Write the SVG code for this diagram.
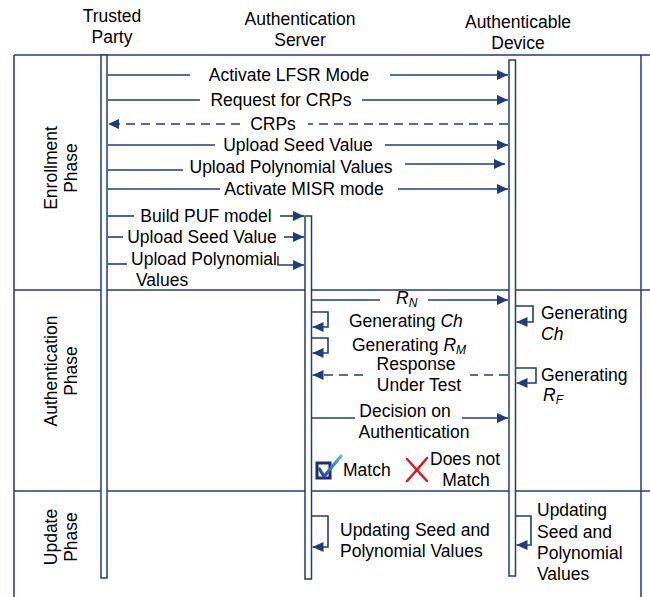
<svg xmlns="http://www.w3.org/2000/svg" width="650" height="597" viewBox="0 0 650 597">
  <defs>
    <style>
      .frame { stroke: #1F3C7E; stroke-width: 1.5; fill: none; }
      .bar { stroke: #1F3C7E; stroke-width: 1.5; fill: #FFFFFF; }
      .msg { stroke: #1F3C7E; stroke-width: 1.6; fill: none; }
      .dash { stroke-dasharray: 9 6; }
      .arr { marker-end: url(#ah); }
      text { font-family: "Liberation Sans", Arial, sans-serif; font-size: 17.5px; fill: #000000; }
      .c { text-anchor: middle; }
      .it { font-style: italic; }
      .sub { font-size: 12px; font-style: italic; }
    </style>
    <marker id="ah" markerWidth="11" markerHeight="10" refX="11" refY="5" orient="auto" markerUnits="userSpaceOnUse">
      <path d="M0,0 L11,5 L0,10 Z" fill="#1F3C7E"/>
    </marker>
    <linearGradient id="tick" x1="0" y1="1" x2="1" y2="0">
      <stop offset="0" stop-color="#1D3F94"/>
      <stop offset="1" stop-color="#5BB4EE"/>
    </linearGradient>
  </defs>

  <!-- column headers -->
  <g id="hdr-trusted-party">
    <text class="c" x="112" y="22">Trusted</text>
    <text class="c" x="112" y="43">Party</text>
  </g>
  <g id="hdr-auth-server">
    <text class="c" x="300" y="25">Authentication</text>
    <text class="c" x="300" y="46">Server</text>
  </g>
  <g id="hdr-auth-device">
    <text class="c" x="518" y="28">Authenticable</text>
    <text class="c" x="518" y="49">Device</text>
  </g>

  <!-- outer frame and phase dividers -->
  <g id="frame" class="frame">
    <line x1="14" y1="55" x2="650" y2="55"/>
    <line x1="14" y1="55" x2="14" y2="597"/>
    <line x1="641" y1="55" x2="641" y2="597"/>
    <line x1="14" y1="290" x2="650" y2="290"/>
    <line x1="14" y1="491" x2="650" y2="491"/>
  </g>

  <!-- phase labels -->
  <g id="phase-enrollment">
    <text class="c" transform="translate(57,168) rotate(-90)">Enrollment</text>
    <text class="c" transform="translate(77,168) rotate(-90)">Phase</text>
  </g>
  <g id="phase-authentication">
    <text class="c" transform="translate(57,371) rotate(-90)">Authentication</text>
    <text class="c" transform="translate(77,371) rotate(-90)">Phase</text>
  </g>
  <g id="phase-update">
    <text class="c" transform="translate(57,537) rotate(-90)">Update</text>
    <text class="c" transform="translate(77,537) rotate(-90)">Phase</text>
  </g>

  <!-- lifeline bars -->
  <g id="bar-trusted-party"><rect class="bar" x="101" y="55" width="6" height="523"/></g>
  <g id="bar-auth-server"><rect class="bar" x="305" y="216" width="6.5" height="363"/></g>
  <g id="bar-auth-device"><rect class="bar" x="509" y="60" width="6.5" height="516"/></g>

  <!-- connectors -->
  <g id="connectors" class="msg">
    <!-- enrollment -->
    <path d="M108,75 H190"/><path class="arr" d="M390,75 H508"/>
    <path d="M108,100 H200"/><path class="arr" d="M362,100 H508"/>
    <path class="dash arr" d="M240,124 H108"/><path class="dash" d="M508,124 H308"/>
    <path d="M108,145 H215"/><path class="arr" d="M385,145 H508"/>
    <path d="M108,170 H183"/><path class="arr" d="M405,164 H505"/>
    <path d="M108,189 H220"/><path class="arr" d="M398,189 H508"/>
    <path d="M108,216 H134"/><path class="arr" d="M280,216 H304"/>
    <path d="M108,237 H123"/><path class="arr" d="M284,237 H304"/>
    <path d="M108,264 H127"/><path class="arr" d="M278,256 V265 H304"/>
    <!-- authentication -->
    <path d="M312,300 H380"/><path class="arr" d="M428,300 H508"/>
    <path class="arr" d="M312,312 H328 V327 H312.5"/>
    <path class="arr" d="M312,338 H328 V353 H312.5"/>
    <path class="dash" d="M508,375 H470"/><path class="dash arr" d="M363,375 H312.5"/>
    <path d="M312,418 H355"/><path class="arr" d="M462,418 H508"/>
    <path class="arr" d="M516,306 H533 V322 H516.5"/>
    <path class="arr" d="M516,368 H536 V383 H516.5"/>
    <!-- update -->
    <path class="arr" d="M312,516 H328 V547 H312.5"/>
    <path class="arr" d="M516,516 H531 V545 H516.5"/>
  </g>

  <!-- message labels -->
  <g id="labels-enrollment">
    <text class="c" x="289" y="81">Activate LFSR Mode</text>
    <text class="c" x="281" y="106">Request for CRPs</text>
    <text class="c" x="273" y="130">CRPs</text>
    <text class="c" x="298" y="151">Upload Seed Value</text>
    <text class="c" x="291" y="173">Upload Polynomial Values</text>
    <text class="c" x="304" y="195">Activate MISR mode</text>
    <text class="c" x="206" y="222">Build PUF model</text>
    <text class="c" x="202" y="243">Upload Seed Value</text>
    <text class="c" x="204" y="265">Upload Polynomial</text>
    <text x="136" y="286">Values</text>
  </g>
  <g id="labels-authentication">
    <text x="396" y="304"><tspan class="it">R</tspan><tspan class="sub" dy="3">N</tspan></text>
    <text x="349" y="327">Generating <tspan class="it">Ch</tspan></text>
    <text x="352" y="351">Generating <tspan class="it">R</tspan><tspan class="sub" dy="3">M</tspan></text>
    <text class="c" x="416" y="370">Response</text>
    <text class="c" x="419" y="391">Under Test</text>
    <text class="c" x="405" y="417">Decision on</text>
    <text class="c" x="414" y="438">Authentication</text>
    <text x="541" y="319">Generating</text>
    <text class="it" x="541" y="340">Ch</text>
    <text x="541" y="381">Generating</text>
    <text x="543" y="401"><tspan class="it">R</tspan><tspan class="sub" dy="3">F</tspan></text>
  </g>

  <!-- outcome: match / does not match -->
  <g id="outcome-match">
    <rect x="317" y="463" width="13" height="15" fill="#FFFFFF" stroke="#1B2A7E" stroke-width="3"/>
    <path d="M319.5,469 L324,476.5 L341,456" fill="none" stroke="url(#tick)" stroke-width="3.2" stroke-linecap="round" stroke-linejoin="round"/>
    <text x="343" y="476">Match</text>
  </g>
  <g id="outcome-no-match">
    <path d="M407,459 Q416,469 427,481 M427,458 Q417,470 407,481" fill="none" stroke="#E8141A" stroke-width="2.5" stroke-linecap="round"/>
    <text x="430" y="465">Does not</text>
    <text class="c" x="466" y="486">Match</text>
  </g>

  <g id="labels-update">
    <text x="340" y="536">Updating Seed and</text>
    <text x="340" y="557">Polynomial Values</text>
    <text x="537" y="516">Updating</text>
    <text x="537" y="538">Seed and</text>
    <text x="537" y="559">Polynomial</text>
    <text x="537" y="580">Values</text>
  </g>
</svg>
